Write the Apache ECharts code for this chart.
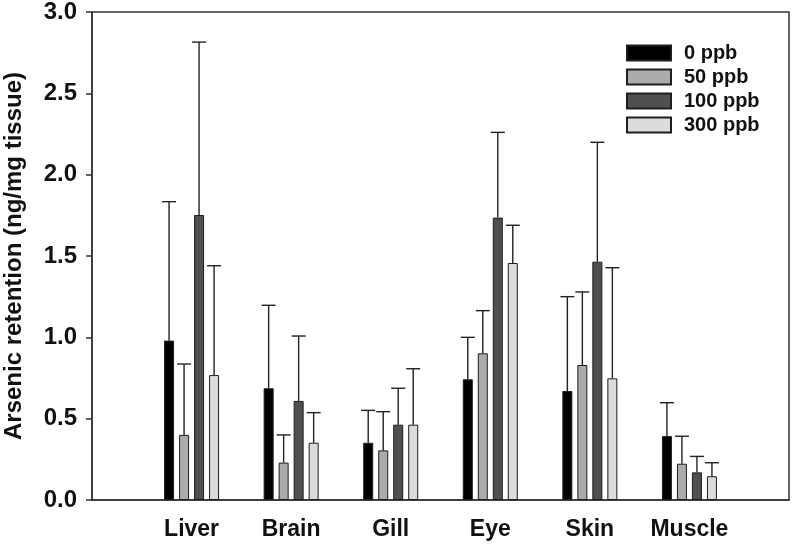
<!DOCTYPE html>
<html>
<head>
<meta charset="utf-8">
<script src="https://cdn.jsdelivr.net/npm/echarts@6/dist/echarts.min.js"></script>
<style>html,body{margin:0;padding:0;background:#fff}#c{width:792px;height:544px}</style>
</head>
<body>
<div id="c"></div>
<script>
// Data
const tissues = ['Liver', 'Brain', 'Gill', 'Eye', 'Skin', 'Muscle'];
const seriesNames = ['0 ppb', '50 ppb', '100 ppb', '300 ppb'];
const ppb0   = [0.98, 0.687, 0.352, 0.742, 0.67, 0.393];
const ppb50  = [0.40, 0.23, 0.305, 0.902, 0.83, 0.223];
const ppb100 = [1.752, 0.609, 0.463, 1.736, 1.465, 0.17];
const ppb300 = [0.768, 0.352, 0.463, 1.457, 0.748, 0.146];
const sd0   = [0.854, 0.51, 0.199, 0.258, 0.58, 0.205];
const sd50  = [0.436, 0.17, 0.238, 0.262, 0.449, 0.169];
const sd100 = [1.063, 0.399, 0.224, 0.524, 0.734, 0.098];
const sd300 = [0.672, 0.185, 0.344, 0.232, 0.68, 0.083];
const yTicks = [0, 0.5, 1.0, 1.5, 2.0, 2.5, 3.0];

const means = [ppb0, ppb50, ppb100, ppb300];
const sds = [sd0, sd50, sd100, sd300];
const colors = ['#000000', '#ababab', '#505050', '#dcdcdc'];

// padded category axis: empty slot at each end
const cats = [''].concat(tissues, ['']);
const BAR_W = 10, PITCH = 15;

const chart = echarts.init(document.getElementById('c'), null, {renderer: 'canvas'});
const FONT = 'Liberation Sans, Arial, sans-serif';

const series = [];
means.forEach((m, i) => {
  series.push({
    name: seriesNames[i],
    type: 'bar',
    data: [null].concat(m, [null]),
    barWidth: BAR_W,
    barGap: '50%',
    itemStyle: {color: colors[i], borderColor: '#1e1e1e', borderWidth: 1},
    z: 3
  });
});
means.forEach((m, i) => {
  const off = (i - 1.5) * PITCH;
  series.push({
    type: 'custom',
    name: seriesNames[i] + ' err',
    data: m.map((v, k) => [k + 1, v, sds[i][k]]),
    z: 2,
    renderItem: function (params, api) {
      const x = api.coord([api.value(0), 0])[0] + off;
      const y0 = api.coord([0, api.value(1)])[1];
      const y1 = api.coord([0, api.value(1) + api.value(2)])[1];
      const st = {stroke: '#222', lineWidth: 1.4};
      return {
        type: 'group',
        children: [
          {type: 'line', shape: {x1: x, y1: y0, x2: x, y2: y1}, style: st},
          {type: 'line', shape: {x1: x - 7, y1: y1, x2: x + 7, y2: y1}, style: st}
        ]
      };
    }
  });
});

chart.setOption({
  animation: false,
  backgroundColor: '#fff',
  grid: {left: 92, right: 3, top: 12, bottom: 44, show: true, borderColor: '#333', borderWidth: 1.5, backgroundColor: 'transparent', containLabel: false, outerBoundsMode: 'none'},
  legend: {
    data: seriesNames,
    orient: 'vertical',
    left: 626, top: 41,
    padding: 0,
    itemWidth: 44, itemHeight: 15, itemGap: 0,
    icon: 'rect',
    textStyle: {fontFamily: FONT, fontWeight: 'bold', fontSize: 20, lineHeight: 24, color: '#111', padding: [0, 0, 0, 8]}
  },
  xAxis: {
    type: 'category',
    data: cats,
    boundaryGap: false,
    axisLine: {lineStyle: {color: '#333', width: 1.5}},
    axisTick: {show: false},
    axisLabel: {color: '#111', fontFamily: FONT, fontWeight: 'bold', fontSize: 23, margin: 18, interval: 0},
    splitLine: {show: false}
  },
  yAxis: {
    type: 'value',
    min: yTicks[0], max: yTicks[yTicks.length - 1], interval: 0.5,
    name: 'Arsenic retention (ng/mg tissue)',
    nameLocation: 'middle', nameGap: 66,
    nameTextStyle: {color: '#111', fontFamily: FONT, fontWeight: 'bold', fontSize: 24},
    axisLine: {show: true, lineStyle: {color: '#333', width: 1.5}},
    axisTick: {show: true, inside: false, length: 6, lineStyle: {color: '#333', width: 1.5}},
    axisLabel: {color: '#111', fontFamily: FONT, fontWeight: 'bold', fontSize: 24, margin: 15, formatter: v => v.toFixed(1)},
    splitLine: {show: false}
  },
  series: series
});
</script>
</body>
</html>
